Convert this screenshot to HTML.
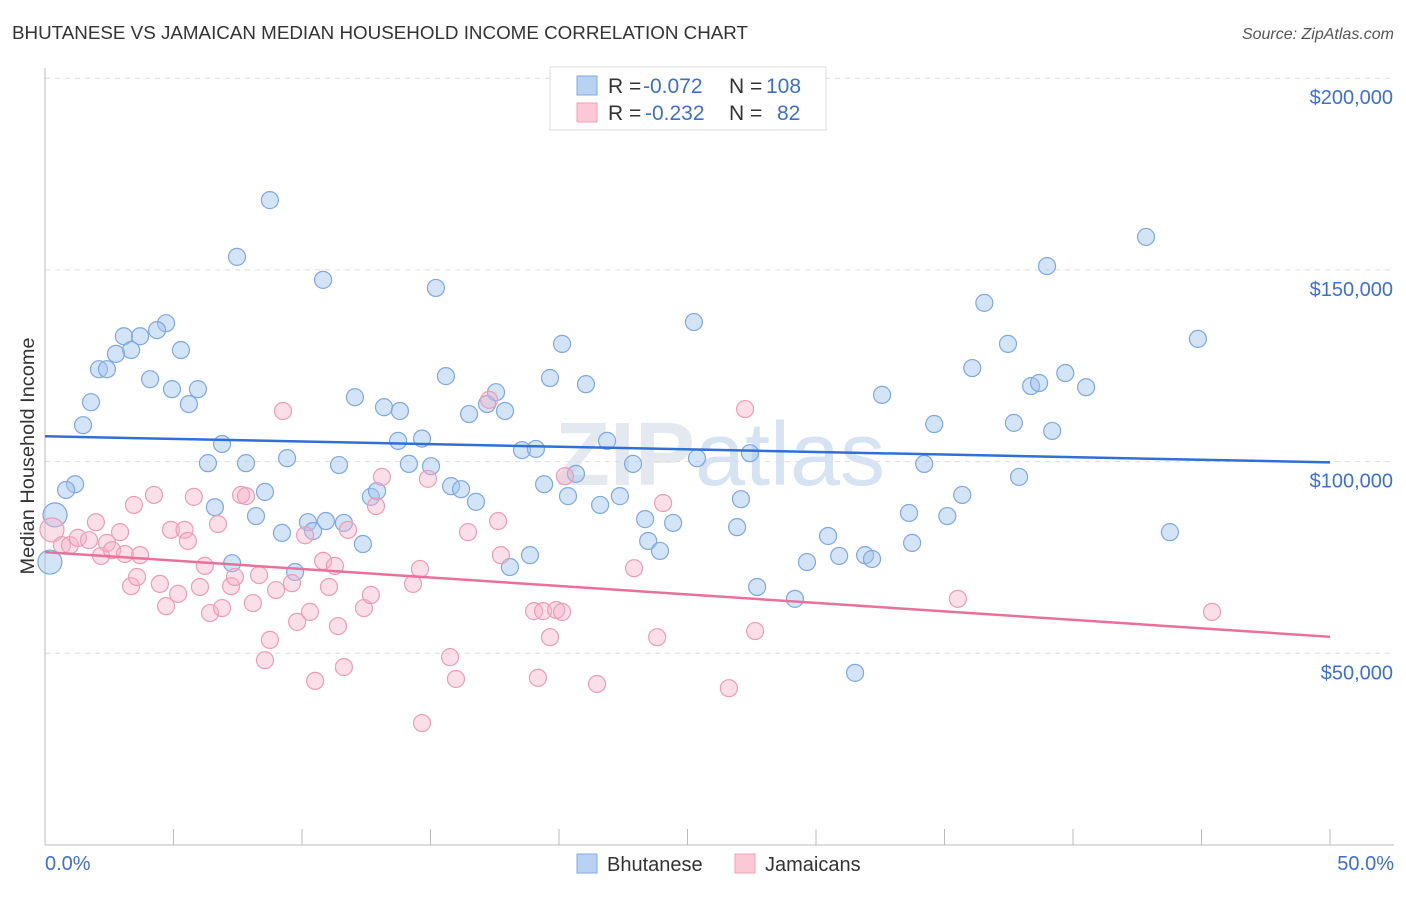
<!DOCTYPE html>
<html><head><meta charset="utf-8"><style>
body{margin:0;background:#fff;font-family:"Liberation Sans",sans-serif;}
svg text{font-family:"Liberation Sans",sans-serif;}
</style></head><body>
<svg id="chart" width="1406" height="892">
<text x="12" y="39" font-size="18" fill="#333" textLength="736" lengthAdjust="spacingAndGlyphs">BHUTANESE VS JAMAICAN MEDIAN HOUSEHOLD INCOME CORRELATION CHART</text>
<text x="1394" y="39" font-size="16" fill="#555" font-style="italic" text-anchor="end">Source: ZipAtlas.com</text>
<text x="720" y="485" font-size="90" fill="#e4e9f0" text-anchor="middle" font-weight="bold">ZIP<tspan font-weight="normal" fill="#d6e3f3">atlas</tspan></text>
<g id="grid"></g><g id="axes"></g><g id="pts"></g><g id="lines"></g>
<text x="34" y="456" font-size="19" fill="#333" text-anchor="middle" textLength="237" lengthAdjust="spacingAndGlyphs" transform="rotate(-90 34 456)">Median Household Income</text>
<text x="45" y="870" font-size="20" fill="#3d6fd1">0.0%</text>
<text x="1394" y="870" font-size="20" fill="#3d6fd1" text-anchor="end">50.0%</text>
<g>
<rect x="550" y="67" width="276" height="63" fill="#fff" stroke="#ddd"/>
<rect x="577" y="76" width="20" height="19" fill="#b8d2f3" stroke="#7eaae6"/>
<rect x="577" y="103" width="20" height="19" fill="#fcc8d6" stroke="#f0a0b8"/>
<text x="608" y="93" font-size="21" fill="#333">R = <tspan fill="#3d6fd1" x="643">-0.072</tspan><tspan x="729">N = </tspan><tspan fill="#3d6fd1" x="766">108</tspan></text>
<text x="608" y="120" font-size="21" fill="#333">R = <tspan fill="#3d6fd1" x="645">-0.232</tspan><tspan x="729">N = </tspan><tspan fill="#3d6fd1" x="777">82</tspan></text>
</g>
<g>
<rect x="577" y="854" width="20" height="19" fill="#b8d2f3" stroke="#7eaae6"/>
<text x="607" y="871" font-size="20" fill="#333">Bhutanese</text>
<rect x="735" y="854" width="20" height="19" fill="#fcc8d6" stroke="#f0a0b8"/>
<text x="765" y="871" font-size="20" fill="#333">Jamaicans</text>
</g>
</svg>
<script>
const yTicks=[50000,100000,150000,200000];
const yTickLabels=["$50,000","$100,000","$150,000","$200,000"];
const xTicks=[0,5,10,15,20,25,30,35,40,45,50];
const bhuX=[8.75,7.47,10.82,15.21,4.71,4.36,3.07,3.70,5.29,3.35,2.76,2.10,2.41,4.09,4.94,5.95,1.79,5.60,1.48,6.89,6.34,7.82,9.42,11.44,1.17,0.82,8.56,6.61,8.21,9.22,10.23,10.43,10.93,11.63,7.28,9.73,0.39,0.19,12.06,13.19,13.81,13.74,14.67,14.16,15.02,15.60,12.68,12.92,12.37,15.80,16.19,16.77,16.50,17.20,17.55,17.90,18.56,19.10,18.09,18.87,19.42,20.12,19.65,21.05,20.35,20.66,21.60,21.87,22.37,22.88,23.35,23.47,23.93,24.44,25.25,25.37,26.93,27.08,27.43,27.71,29.18,29.65,30.47,30.90,31.91,32.18,31.52,32.57,33.62,33.74,34.21,34.60,35.11,35.69,36.08,36.55,37.47,37.70,37.90,38.37,38.68,38.99,39.19,39.70,40.51,42.84,43.77,44.86];
const bhuY=[168.2,153.4,147.4,145.3,136.1,134.3,132.7,132.7,129.1,129.1,128.1,124.1,124.1,121.5,118.9,118.9,115.5,115.0,109.5,104.6,99.6,99.6,100.9,99.1,94.1,92.6,92.1,88.1,85.8,81.4,84.2,81.9,84.5,84.0,73.5,71.2,86.1,73.8,116.8,114.2,113.2,105.4,106.0,99.4,98.8,122.3,90.8,92.3,78.5,93.6,92.8,89.5,112.4,115.0,118.1,113.2,103.0,103.3,72.5,75.6,94.1,130.7,121.8,120.2,91.0,96.8,88.7,105.4,91.0,99.4,85.0,79.3,76.7,84.0,136.4,100.9,82.9,90.2,102.2,67.3,64.2,73.8,80.6,75.4,75.6,74.6,44.9,117.4,86.6,78.8,99.4,109.8,85.8,91.3,124.4,141.4,130.7,110.1,96.0,119.7,120.5,151.0,108.0,123.1,119.4,158.6,81.6,132.0];
const jamX=[0.27,0.66,0.97,1.28,1.71,1.98,2.18,2.41,2.61,2.92,3.11,3.46,3.70,3.35,3.58,4.24,4.47,4.71,4.90,5.18,5.43,5.56,5.79,6.03,6.22,6.42,6.73,6.89,7.24,7.39,7.63,7.82,8.09,8.33,8.56,8.75,8.99,9.26,9.61,9.81,10.12,10.31,10.51,10.82,11.05,11.28,11.40,11.63,11.79,12.41,12.68,12.88,13.11,14.32,14.59,14.90,14.67,15.76,15.99,16.46,17.28,17.63,17.74,19.03,19.18,19.38,19.65,19.89,20.12,20.23,21.48,22.92,23.82,24.05,26.61,27.24,27.63,35.52,45.41];
const jamY=[82.2,78.2,78.2,80.1,79.5,84.2,75.4,78.8,76.9,81.6,75.9,88.7,75.6,67.5,69.9,91.3,68.1,62.3,82.2,65.5,82.2,79.3,90.8,67.3,72.8,60.5,83.7,61.8,67.5,69.9,91.3,91.0,63.1,70.4,48.2,53.5,66.5,113.2,68.3,58.2,80.8,60.8,42.8,74.1,67.3,72.8,57.1,46.4,82.2,61.8,65.2,88.4,96.0,68.1,72.0,95.5,31.8,49.0,43.3,81.6,116.1,84.5,75.6,61.0,43.6,61.0,54.2,61.3,60.8,96.2,42.0,72.2,54.2,89.2,40.9,113.7,55.8,64.2,60.8];
const bhuTrend=[106.6,99.8];
const jamTrend=[76.4,54.3];
const NS="http://www.w3.org/2000/svg";
const sx=p=>45+p/50*1285;
const sy=k=>845-k*1000/50000*191.7;
function mk(t,a,parent){const e=document.createElementNS(NS,t);for(const k in a)e.setAttribute(k,a[k]);document.getElementById(parent).appendChild(e);return e;}
yTicks.forEach((v,i)=>{
 const l=mk('line',{x1:45,x2:1394,y1:sy(v/1000),y2:sy(v/1000),stroke:'#ddd','stroke-dasharray':'5,5'},'grid');
 
 
 const t=mk('text',{x:1393,y:sy(v/1000)+26,'font-size':20,fill:'#3d6fd1','text-anchor':'end'},'grid');
 t.textContent=yTickLabels[i];
 
 
});
const ya=mk('line',{x1:45,x2:45,y1:68,y2:845,stroke:'#bbb'},'axes');


const xa=mk('line',{x1:45,x2:1394,y1:845,y2:845,stroke:'#bbb'},'axes');


xTicks.forEach(p=>{const l=mk('line',{x1:sx(p),x2:sx(p),y1:829,y2:845,stroke:'#bbb'},'axes');
 
 });
function pts(X,Y,fill,stroke,name,big){X.forEach((x,i)=>{
 const r=(big&&x<0.5)?12:8.5;
 const c=mk('circle',{cx:sx(x),cy:sy(Y[i]),r:r,fill:fill,stroke:stroke,'stroke-width':1.2},'pts');
 
 });}
pts(bhuX,bhuY,'rgba(160,195,238,0.45)','#7ea8e0','bhutanese-point',true);
pts(jamX,jamY,'rgba(246,175,198,0.4)','#ee9cb6','jamaican-point',true);
const l1=mk('line',{x1:sx(0),x2:sx(50),y1:sy(bhuTrend[0]),y2:sy(bhuTrend[1]),stroke:'#2f6fd6','stroke-width':2.5},'lines');


const l2=mk('line',{x1:sx(0),x2:sx(50),y1:sy(jamTrend[0]),y2:sy(jamTrend[1]),stroke:'#e8709a','stroke-width':2.5},'lines');


</script>
</body></html>
